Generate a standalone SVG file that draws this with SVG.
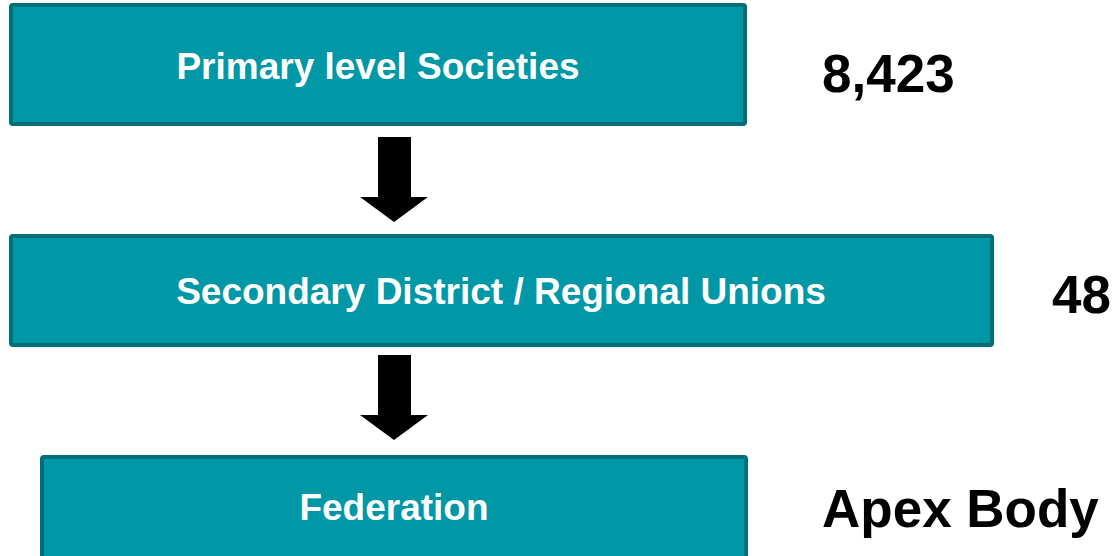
<svg xmlns="http://www.w3.org/2000/svg" width="1114" height="556" viewBox="0 0 1114 556">
<style>
.box{fill:#0097A7;stroke:#006F79;stroke-width:4}
.lbl{font-family:"Liberation Sans",Arial,sans-serif;font-weight:bold;font-size:37px;fill:#fff;text-anchor:middle}
.side{font-family:"Liberation Sans",Arial,sans-serif;font-weight:bold;font-size:53px;fill:#000}
.arr{fill:#000}
</style>
<rect width="1114" height="556" fill="#fff"/>
<g id="primary">
<rect class="box" x="11" y="5" width="734" height="119" rx="2"/>
<text class="lbl" x="378" y="79">Primary level Societies</text>
</g>
<g id="secondary">
<rect class="box" x="11" y="236" width="981" height="109" rx="2"/>
<text class="lbl" x="501" y="304">Secondary District / Regional Unions</text>
</g>
<g id="federation">
<rect class="box" x="42" y="457" width="704" height="110" rx="2"/>
<text class="lbl" x="394" y="520">Federation</text>
</g>
<g id="count-primary"><text class="side" x="822" y="92">8,423</text></g>
<g id="count-secondary"><text class="side" x="1052" y="313">48</text></g>
<g id="apex"><text class="side" x="822" y="527">Apex Body</text></g>
<g id="connectors">
<polygon class="arr" points="378,137 411,137 411,197 428,197 394,222 360,197 378,197"/>
<polygon class="arr" points="378,355 411,355 411,415 428,415 394,440 360,415 378,415"/>
</g>
</svg>
